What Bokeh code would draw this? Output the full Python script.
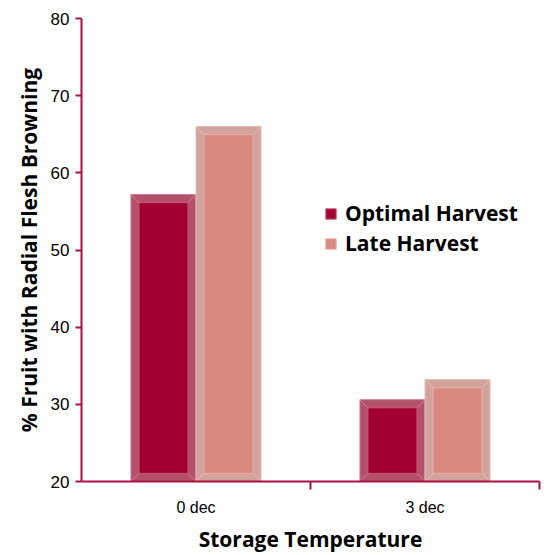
from bokeh.plotting import figure
from bokeh.models import FixedTicker, Range1d, Legend, LegendItem
from bokeh.embed import file_html
from bokeh.resources import INLINE

categories = ["0 dec", "3 dec"]
optimal = [57.2, 30.6]
late = [66.0, 33.2]
y_ticks = [20, 30, 40, 50, 60, 70, 80]

AX = "#A8103E"
OPT_IN, OPT_OUT = "#A30032", "#B5506A"
LATE_IN, LATE_OUT = "#D98A80", "#D2A29C"

p = figure(width=544, height=555, output_backend="svg", toolbar_location=None,
           x_range=Range1d(0, len(categories)), y_range=Range1d(20, 80),
           min_border_left=81, min_border_right=5, min_border_top=18, min_border_bottom=74)
p.outline_line_color = None
p.xgrid.visible = False
p.ygrid.visible = False
p.background_fill_color = "white"
p.border_fill_color = "white"

centers = [i + 0.5 for i in range(len(categories))]
w = 0.284
off = 0.142
ins_x = 0.035
ins_y = 1.05
base = 20

xo = [c - off for c in centers]
xl = [c + off for c in centers]


def bevel(xs, vals, outer, inner, edge, inner_edge, corner):
    p.vbar(x=xs, top=vals, bottom=base, width=w, fill_color=outer, line_color=edge, line_width=1)
    r = p.vbar(x=xs, top=[v - ins_y for v in vals], bottom=base + ins_y, width=w - 2 * ins_x,
               fill_color=inner, line_color=inner_edge, line_width=1)
    x0, y0, x1, y1 = [], [], [], []
    for x, v in zip(xs, vals):
        for sx in (-1, 1):
            for yo, yi in ((v, v - ins_y), (base, base + ins_y)):
                x0.append(x + sx * w / 2)
                y0.append(yo)
                x1.append(x + sx * (w / 2 - ins_x))
                y1.append(yi)
    p.segment(x0=x0, y0=y0, x1=x1, y1=y1, line_color=corner, line_width=1, line_alpha=0.8)
    return r


r1 = bevel(xo, optimal, OPT_OUT, OPT_IN, "#C87E90", "#C45A78", "#D890A4")
r2 = bevel(xl, late, LATE_OUT, LATE_IN, "#E2BDB8", "#EBB0A8", "#EEC6C0")

legend = Legend(items=[LegendItem(label="Optimal Harvest", renderers=[r1]),
                       LegendItem(label="Late Harvest", renderers=[r2])],
                location=(243, 224), border_line_color=None, background_fill_alpha=0,
                label_text_font="Open Sans", label_text_font_style="bold",
                label_text_font_size="21px", label_text_color="black",
                glyph_width=13, glyph_height=13,
                spacing=2, padding=4, label_standoff=8)
p.add_layout(legend)

# x axis
p.xaxis.ticker = FixedTicker(ticks=centers, minor_ticks=[1, 2])
p.xaxis.major_label_overrides = {c: lab for c, lab in zip(centers, categories)}
p.xaxis.major_tick_out = 0
p.xaxis.major_tick_in = 0
p.xaxis.minor_tick_out = 8
p.xaxis.minor_tick_in = 0
p.xaxis.minor_tick_line_color = AX
p.xaxis.minor_tick_line_width = 2
p.xaxis.axis_line_color = AX
p.xaxis.axis_line_width = 2
p.xaxis.major_label_text_font = "Liberation Sans"
p.xaxis.major_label_text_font_size = "16px"
p.xaxis.major_label_text_color = "black"
p.xaxis.major_label_standoff = 9
p.xaxis.axis_label = "Storage Temperature"
p.xaxis.axis_label_text_font = "Open Sans"
p.xaxis.axis_label_text_font_style = "bold"
p.xaxis.axis_label_text_font_size = "21px"
p.xaxis.axis_label_text_color = "black"
p.xaxis.axis_label_standoff = 6

# y axis
p.yaxis.ticker = FixedTicker(ticks=y_ticks, minor_ticks=[])
p.yaxis.major_tick_out = 6
p.yaxis.major_tick_in = 0
p.yaxis.major_tick_line_color = AX
p.yaxis.major_tick_line_width = 2
p.yaxis.axis_line_color = AX
p.yaxis.axis_line_width = 2
p.yaxis.major_label_text_font = "Liberation Sans"
p.yaxis.major_label_text_font_size = "17px"
p.yaxis.major_label_text_color = "black"
p.yaxis.major_label_standoff = 6
p.yaxis.axis_label = "% Fruit with Radial Flesh Browning"
p.yaxis.axis_label_text_font = "Open Sans"
p.yaxis.axis_label_text_font_style = "bold"
p.yaxis.axis_label_text_font_size = "21px"
p.yaxis.axis_label_text_color = "black"
p.yaxis.axis_label_standoff = 5

open("out.html", "w").write(file_html(p, INLINE))
